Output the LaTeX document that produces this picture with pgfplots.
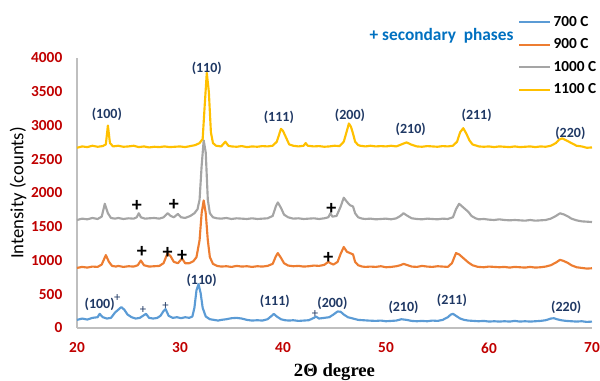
\documentclass[border=0pt]{standalone}
\usepackage{pgfplots}
\pgfplotsset{compat=1.18}
\usepackage{fontspec}
\setmainfont{Carlito}
\newfontfamily\serifb{Liberation Serif}
\definecolor{c700}{HTML}{5B9BD5}
\definecolor{c900}{HTML}{ED7D31}
\definecolor{c1000}{HTML}{A5A5A5}
\definecolor{c1100}{HTML}{FFC000}
\definecolor{tickred}{HTML}{C00000}
\definecolor{miller}{HTML}{1F3864}
\definecolor{secblue}{HTML}{0070C0}
\begin{document}
\begin{tikzpicture}
\useasboundingbox (0,0) rectangle (450pt,285.75pt);
\begin{axis}[
  at={(57.75pt,39.75pt)}, anchor=south west,
  scale only axis, width=386.25pt, height=202.5pt,
  xmin=20, xmax=70, ymin=0, ymax=4000,
  xtick={20,30,40,50,60,70},
  ytick={0,500,1000,1500,2000,2500,3000,3500,4000},
  axis x line*=bottom, axis y line*=left,
  axis line style={draw=black!25, line width=0.8pt, -},
  major tick length=0pt,
  /pgf/number format/assume math mode=true,
  /pgf/number format/set thousands separator={},
  ticklabel style={font=\bfseries\fontsize{11.5}{13}\selectfont, text=tickred},
  yticklabel style={xshift=-7.5pt},
  xticklabel style={yshift=-7.6pt},
  xlabel={2\textbf{Θ} degree},
  xlabel style={font=\serifb\bfseries\fontsize{14}{15}\selectfont, at={(axis description cs:0.5,-0.163)}, anchor=center},
  ylabel={Intensity (counts)},
  ylabel style={font=\fontsize{14}{15}\selectfont, at={(axis description cs:-0.1146,0.5)}, anchor=center},
  clip=false,
  legend style={at={(0.856,1.166)}, anchor=north west, draw=none, fill=none,
    font=\bfseries\fontsize{11.5}{13}\selectfont, row sep=3.9pt, inner sep=0pt},
  legend cell align=left,
  legend image code/.code={\draw[#1, line width=1.6pt] (0pt,0pt) -- (23pt,0pt);},
  every axis plot/.append style={line width=1.6pt, line join=round},
]
\addplot[c700, no marks] coordinates {
(20,120) (20.5,140) (21,125) (21.5,150) (22,160) (22.2,210) (22.5,160) (22.9,140) (23.3,150) (23.7,230) (24.0,270) (24.3,310) (24.6,270) (24.9,200) (25.3,160) (25.7,140) (26.1,150) (26.4,180) (26.7,210) (27.0,150) (27.4,140) (27.8,150) (28.1,180) (28.4,250) (28.6,280) (28.9,180) (29.3,150) (29.7,160) (30.1,145) (30.5,160) (30.9,150) (31.2,170) (31.4,300) (31.6,560) (31.8,650) (32.0,520) (32.2,300) (32.5,170) (32.9,130) (33.3,120) (33.7,110) (34,120) (34.5,130) (35,145) (35.5,150) (36,140) (36.5,120) (37,110) (37.5,115) (38,110) (38.5,130) (38.9,180) (39.1,210) (39.4,170) (39.8,130) (40.2,115) (40.6,110) (41,115) (41.5,105) (42,110) (42.5,115) (43,150) (43.2,170) (43.5,140) (44,150) (44.5,160) (44.9,200) (45.3,245) (45.6,240) (45.9,200) (46.3,160) (46.8,140) (47.3,120) (47.8,115) (48.3,110) (49,105) (49.5,110) (50,100) (50.5,105) (51,110) (51.5,130) (52,120) (52.5,105) (53,100) (53.5,105) (54,100) (54.5,110) (55,105) (55.5,120) (56,160) (56.3,200) (56.5,210) (56.8,180) (57.2,140) (57.6,120) (58,110) (58.5,105) (59,100) (59.5,105) (60,95) (60.5,100) (61,95) (61.5,100) (62,95) (62.5,105) (63,95) (63.5,100) (64,95) (64.5,100) (65,105) (65.5,115) (66,140) (66.3,145) (66.6,130) (67,115) (67.5,105) (68,100) (68.5,95) (69,100) (69.5,90) (70,95)
};
\addlegendentry{700 C}
\addplot[c900, no marks] coordinates {
(20,890) (20.5,905) (21,895) (21.5,910) (22,905) (22.4,940) (22.8,1080) (23.1,980) (23.4,920) (23.8,910) (24,920) (24.5,905) (25,915) (25.5,910) (25.9,930) (26.2,1000) (26.5,930) (27,910) (27.5,915) (28,920) (28.4,960) (28.8,1110) (29.1,1060) (29.4,980) (29.8,960) (30.2,1030) (30.5,960) (30.9,960) (31.3,990) (31.6,1050) (31.9,1300) (32.1,1700) (32.3,1890) (32.5,1700) (32.7,1300) (32.9,1050) (33.2,950) (33.6,920) (34,910) (34.5,915) (35,905) (35.5,920) (36,910) (36.5,915) (37,905) (37.5,915) (38,910) (38.5,920) (39,950) (39.3,1060) (39.5,1110) (39.8,1040) (40.1,960) (40.5,925) (41,915) (41.5,920) (42,910) (42.5,915) (43,925) (43.5,920) (44,935) (44.4,980) (44.6,960) (44.9,940) (45.3,980) (45.6,1100) (45.9,1200) (46.2,1130) (46.5,1110) (46.8,1090) (47.0,980) (47.3,930) (47.7,910) (48,905) (48.5,910) (49,905) (49.5,915) (50,900) (50.5,905) (51,915) (51.4,930) (51.7,950) (52.1,930) (52.5,910) (53,905) (53.5,920) (54,910) (54.5,905) (55,915) (55.5,910) (56,905) (56.4,960) (56.8,1110) (57.1,1090) (57.4,1050) (57.7,1010) (58.0,970) (58.4,930) (58.8,910) (59,905) (59.5,900) (60,910) (60.5,905) (61,900) (61.5,905) (62,895) (62.5,905) (63,900) (63.5,895) (64,905) (64.5,895) (65,900) (65.5,910) (66,930) (66.5,970) (66.9,1010) (67.3,990) (67.7,960) (68,930) (68.5,900) (69,890) (69.5,880) (70,885)
};
\addlegendentry{900 C}
\addplot[c1000, no marks] coordinates {
(20,1600) (20.5,1620) (21,1610) (21.5,1630) (22,1615) (22.4,1650) (22.7,1840) (23.0,1700) (23.3,1630) (23.7,1620) (24,1630) (24.5,1615) (25,1625) (25.5,1620) (25.8,1640) (26.0,1700) (26.2,1640) (26.6,1620) (27,1625) (27.5,1630) (28,1620) (28.4,1640) (28.8,1700) (29.1,1660) (29.4,1640) (29.8,1690) (30.1,1640) (30.5,1630) (31,1660) (31.4,1700) (31.7,1760) (31.9,1900) (32.1,2400) (32.3,2780) (32.5,2600) (32.7,1900) (32.9,1700) (33.2,1640) (33.6,1625) (34,1620) (34.5,1630) (35,1615) (35.5,1625) (36,1620) (36.5,1615) (37,1625) (37.5,1615) (38,1620) (38.5,1625) (39,1660) (39.3,1800) (39.5,1860) (39.8,1780) (40.1,1680) (40.5,1640) (41,1620) (41.5,1625) (42,1615) (42.5,1620) (43,1625) (43.5,1615) (44,1625) (44.4,1640) (44.6,1700) (44.8,1650) (45.2,1660) (45.6,1800) (45.9,1930) (46.2,1870) (46.5,1820) (46.8,1800) (47.0,1700) (47.3,1640) (47.7,1620) (48,1615) (48.5,1620) (49,1610) (49.5,1615) (50,1620) (50.5,1610) (51,1625) (51.4,1660) (51.7,1700) (52.1,1660) (52.5,1625) (53,1615) (53.5,1610) (54,1620) (54.5,1615) (55,1610) (55.5,1620) (56,1615) (56.5,1640) (56.8,1760) (57.1,1840) (57.4,1800) (57.7,1760) (58.0,1720) (58.3,1660) (58.7,1625) (59,1610) (59.5,1615) (60,1605) (60.5,1600) (61,1610) (61.5,1600) (62,1595) (62.5,1600) (63,1595) (63.5,1590) (64,1600) (64.5,1590) (65,1595) (65.5,1600) (66,1620) (66.5,1660) (66.9,1700) (67.3,1680) (67.7,1650) (68,1620) (68.5,1595) (69,1580) (69.5,1575) (70,1570)
};
\addlegendentry{1000 C}
\addplot[c1100, no marks] coordinates {
(20,2670) (20.5,2690) (21,2680) (21.5,2700) (22,2685) (22.5,2695) (22.8,2720) (23.0,3000) (23.2,2740) (23.5,2690) (24,2700) (24.5,2685) (25,2690) (25.5,2700) (26,2680) (26.5,2690) (27,2675) (27.5,2685) (28,2680) (28.5,2690) (29,2680) (29.5,2685) (30,2690) (30.5,2680) (31,2695) (31.5,2710) (31.9,2740) (32.2,2800) (32.4,3300) (32.6,3780) (32.8,3500) (33.0,2900) (33.2,2740) (33.5,2700) (34,2690) (34.4,2760) (34.7,2700) (35,2690) (35.5,2685) (36,2695) (36.5,2680) (37,2690) (37.5,2685) (38,2695) (38.5,2690) (39,2700) (39.4,2760) (39.8,2950) (40.0,2920) (40.3,2820) (40.6,2720) (41,2700) (41.5,2690) (42,2700) (42.2,2740) (42.4,2700) (43,2690) (43.5,2695) (44,2685) (44.5,2690) (45,2700) (45.5,2695) (45.9,2760) (46.2,2920) (46.4,3030) (46.6,2980) (46.8,2880) (47.0,2760) (47.3,2710) (47.5,2700) (48,2690) (48.5,2700) (49,2690) (49.5,2695) (50,2690) (50.5,2700) (51,2690) (51.5,2720) (52.0,2750) (52.4,2720) (52.8,2700) (53,2690) (53.5,2685) (54,2695) (54.5,2690) (55,2685) (55.5,2695) (56,2690) (56.5,2700) (56.9,2760) (57.2,2900) (57.5,2960) (57.8,2880) (58.1,2780) (58.4,2720) (58.8,2700) (59,2690) (59.5,2685) (60,2690) (60.5,2680) (61,2690) (61.5,2685) (62,2680) (62.5,2690) (63,2680) (63.5,2685) (64,2690) (64.5,2680) (65,2690) (65.5,2685) (66,2700) (66.5,2740) (66.8,2790) (67.1,2810) (67.5,2780) (68,2740) (68.5,2700) (69,2690) (69.5,2670) (70,2675)
};
\addlegendentry{1100 C}
% Miller indices, 1100 C
\begin{scope}[every node/.style={font=\bfseries\fontsize{10.5}{12}\selectfont, text=miller}]
\node at (axis cs:22.9,3170) {(100)};
\node at (axis cs:32.6,3850) {(110)};
\node at (axis cs:39.6,3120) {(111)};
\node at (axis cs:46.5,3150) {(200)};
\node at (axis cs:52.4,2940) {(210)};
\node at (axis cs:58.8,3150) {(211)};
\node at (axis cs:67.9,2880) {(220)};
% Miller indices, 700 C
\node at (axis cs:22.2,357) {(100)};
\node at (axis cs:32.1,700) {(110)};
\node at (axis cs:39.2,400) {(111)};
\node at (axis cs:44.8,370) {(200)};
\node at (axis cs:51.7,300) {(210)};
\node at (axis cs:56.4,415) {(211)};
\node at (axis cs:67.5,300) {(220)};
\end{scope}
% small plus signs, 700 C
\begin{scope}[every node/.style={font=\fontsize{9.5}{10}\selectfont, text=miller, inner sep=0pt}]
\node at (axis cs:23.9,446) {+};
\node at (axis cs:26.4,270) {+};
\node at (axis cs:28.6,330) {+};
\node at (axis cs:43.1,210) {+};
\end{scope}
% bold plus signs
\begin{scope}[every node/.style={font=\bfseries\fontsize{15}{16}\selectfont, text=black, inner sep=0pt}]
\node at (axis cs:25.8,1815) {+};
\node at (axis cs:29.4,1830) {+};
\node at (axis cs:44.7,1770) {+};
\node at (axis cs:26.3,1130) {+};
\node at (axis cs:28.8,1115) {+};
\node at (axis cs:30.2,1070) {+};
\node at (axis cs:44.4,1040) {+};
\end{scope}
\node[font=\bfseries\fontsize{13}{14}\selectfont, text=secblue] at (axis cs:55.4,4330) {+ secondary\ \ phases};
\end{axis}
\end{tikzpicture}
\end{document}
